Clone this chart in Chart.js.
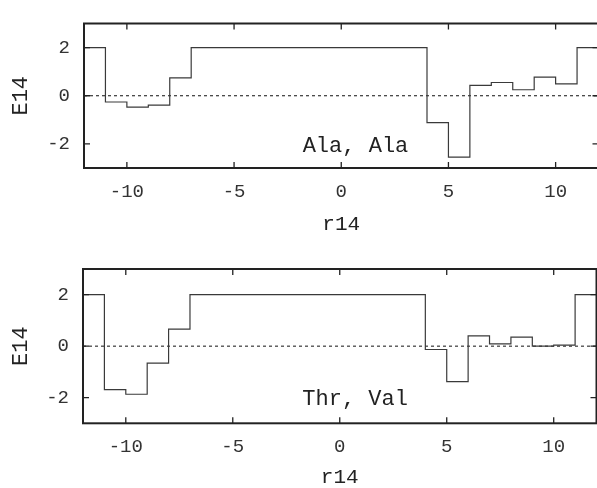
<!DOCTYPE html>
<html><head><meta charset="utf-8">
<script src="https://cdn.jsdelivr.net/npm/chart.js@4/dist/chart.umd.min.js"></script>
<style>
html,body{margin:0;padding:0;background:#fff;overflow:hidden;width:597px;height:488px}
.box{position:absolute;left:0;width:600px;height:244px}
canvas{display:block}
</style></head><body>
<div class="box" style="top:0"><canvas id="c1" width="600" height="244"></canvas></div>
<div class="box" style="top:244px"><canvas id="c2" width="600" height="244"></canvas></div>
<script>
// step edges (r14) and the step heights (E14) starting at each edge
const r14Edges = [-12,-11,-10,-9,-8,-7,-6,-5,-4,-3,-2,-1,0,1,2,3,4,5,6,7,8,9,10,11,12];
const eAlaAla  = [2,-0.26,-0.47,-0.39,0.74,2,2,2,2,2,2,2,2,2,2,2,-1.12,-2.55,0.43,0.55,0.25,0.77,0.49,2,2];
const eThrVal  = [2,-1.69,-1.87,-0.66,0.66,2,2,2,2,2,2,2,2,2,2,2,-0.13,-1.38,0.40,0.09,0.35,0.00,0.04,2,2];
const xTicks = [-10,-5,0,5,10];
const yTicks = [-2,0,2];
const xRange = [-12,12];
const yRange = [-3,3];
const zeroLine = [0,0];
const labelAla = {text:'Ala, Ala', x:-1.8, y:-2.1};
const labelThr = {text:'Thr, Val', x:-1.75, y:-2.05};

const monoFont = "'Courier New','Liberation Mono',monospace";

const framePlugin = {
  id:'frame',
  afterDraw(chart, args, opts){
    const {ctx, chartArea:a, scales:{x,y}} = chart;
    ctx.save();
    ctx.strokeStyle = '#222';
    ctx.lineWidth = 1.3;
    const tl = 6;
    xTicks.forEach(v=>{
      const px = x.getPixelForValue(v);
      ctx.beginPath();
      ctx.moveTo(px, a.bottom); ctx.lineTo(px, a.bottom - tl);
      ctx.moveTo(px, a.top); ctx.lineTo(px, a.top + tl);
      ctx.stroke();
    });
    yTicks.forEach(v=>{
      const py = y.getPixelForValue(v);
      ctx.beginPath();
      ctx.moveTo(a.left, py); ctx.lineTo(a.left + tl, py);
      ctx.moveTo(a.right, py); ctx.lineTo(a.right - tl, py);
      ctx.stroke();
    });
    ctx.lineWidth = 2;
    ctx.strokeRect(a.left, a.top, a.right - a.left, a.bottom - a.top);
    const lab = opts.label;
    if (lab){
      ctx.fillStyle = '#222';
      ctx.font = "22px " + monoFont;
      ctx.textAlign = 'left';
      ctx.textBaseline = 'middle';
      ctx.fillText(lab.text, x.getPixelForValue(lab.x), y.getPixelForValue(lab.y));
    }
    ctx.restore();
  }
};

function makeChart(id, values, label, pad, yWidth, xHeight){
  const pts = r14Edges.map((r,i)=>({x:r, y:values[i]}));
  return new Chart(document.getElementById(id), {
    type:'line',
    data:{datasets:[
      {data:pts, stepped:'before', borderColor:'#3a3a3a', borderWidth:1.2, pointRadius:0, fill:false},
      {data:xRange.map((r,i)=>({x:r, y:zeroLine[i]})), borderColor:'#111', borderWidth:1, borderDash:[3,3], pointRadius:0, fill:false}
    ]},
    options:{
      responsive:false, animation:false,
      layout:{padding:pad},
      plugins:{legend:{display:false}, tooltip:{enabled:false}, frame:{label}},
      scales:{
        x:{type:'linear', min:xRange[0], max:xRange[1],
          afterBuildTicks:s=>{s.ticks = xTicks.map(v=>({value:v}));},
          afterFit:s=>{s.height = xHeight;},
          grid:{display:false, drawTicks:false}, border:{display:false},
          ticks:{padding:14.5, color:'#333', font:{family:"'Liberation Mono',monospace", size:19, lineHeight:1}, maxRotation:0},
          title:{display:true, text:'r14', color:'#222', font:{family:monoFont, size:21, lineHeight:1}, padding:{top:0,bottom:0}}
        },
        y:{type:'linear', min:yRange[0], max:yRange[1],
          afterBuildTicks:s=>{s.ticks = yTicks.map(v=>({value:v}));},
          afterFit:s=>{s.width = yWidth;},
          grid:{display:false, drawTicks:false}, border:{display:false},
          ticks:{padding:14, color:'#333', font:{family:"'Liberation Mono',monospace", size:19, lineHeight:1}},
          title:{display:true, text:'E14', color:'#222', font:{family:monoFont, size:22, lineHeight:1}, padding:{top:10.5,bottom:0}}
        }
      }
    },
    plugins:[framePlugin]
  });
}

makeChart('c1', eAlaAla, labelAla, {top:14, right:1.5, left:0, bottom:9.5}, 84, 66.5);
makeChart('c2', eThrVal, labelThr, {top:25, right:3.5, left:0, bottom:0}, 83, 64.7);
</script>
</body></html>
